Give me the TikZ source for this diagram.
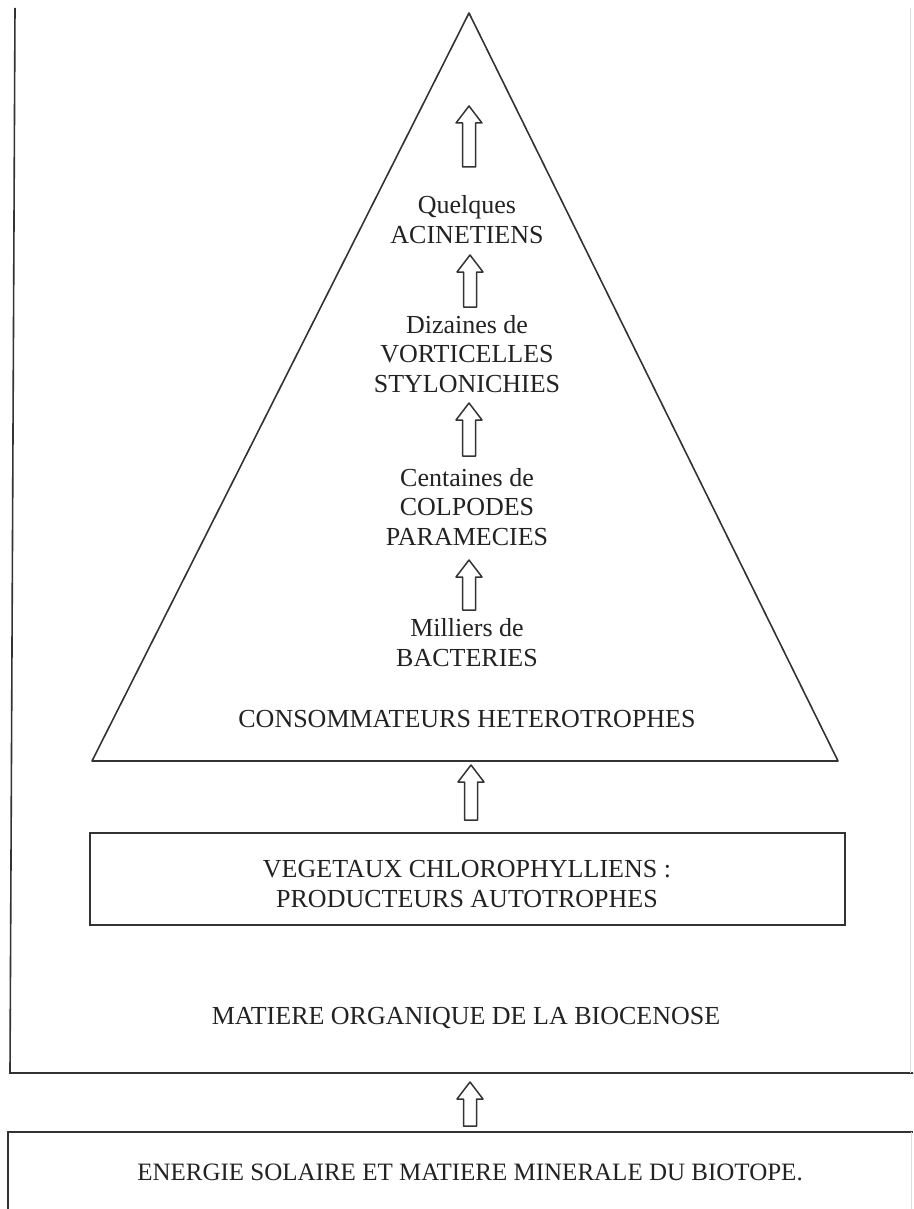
\documentclass[tikz,border=0pt]{standalone}
\usepackage{fontspec}
\setmainfont{Liberation Serif}
\usetikzlibrary{calc}
\definecolor{ink}{HTML}{333333}
\definecolor{txt}{HTML}{222222}
\definecolor{faint}{HTML}{DDDDDD}
\tikzset{
  line/.style={draw=ink, line width=1.6pt},
  lbl/.style={text=txt, inner sep=0pt, align=center, anchor=base,
    font=\fontsize{26}{29.5}\selectfont},
  blockarrow/.style={draw=ink, line width=1.5pt, line join=round,
    to path={let \p1=(\tikztostart), \p2=(\tikztotarget) in
      (\x1-6.5pt,\y1) -- (\x1+6.5pt,\y1) -- (\x1+6.5pt,\y2-17pt) -- (\x1+13pt,\y2-17pt)
      -- (\x1,\y2) -- (\x1-13pt,\y2-17pt) -- (\x1-6.5pt,\y2-17pt) -- cycle}}
}
\begin{document}
\begin{tikzpicture}[x=1pt,y=-1pt]
\useasboundingbox (0,0) rectangle (913,1209);
% outer frame (biocenose)
\draw[line] (15,8) -- (10,1073) -- (913,1073);
\draw[faint, line width=1pt] (910,8) -- (910,1073);
% lower box (biotope)
\draw[line] (8,1209) -- (8,1132) -- (913,1132);
\draw[faint, line width=1pt] (911,1132) -- (911,1209);
% pyramid
\draw[line, line join=round] (469,13) -- (92,761) -- (838,761) -- cycle;
% producers box
\draw[line] (90,833) rectangle (845,925);

% texts (anchor = baseline of the last line)
\node[lbl] (acin) at (467,243) {Quelques\\ACINETIENS};
\node[lbl] (vort) at (467,392) {Dizaines de\\VORTICELLES\\STYLONICHIES};
\node[lbl] (colp) at (467,545) {Centaines de\\COLPODES\\PARAMECIES};
\node[lbl] (bact) at (467,666) {Milliers de\\BACTERIES};
\node[lbl] (cons) at (467,727) {CONSOMMATEURS HETEROTROPHES};
\node[lbl] (vege) at (467,907) {VEGETAUX CHLOROPHYLLIENS :\\PRODUCTEURS AUTOTROPHES};
\node[lbl] (mati) at (466,1024) {MATIERE ORGANIQUE DE LA BIOCENOSE};
\node[lbl, font=\fontsize{25}{29.5}\selectfont] (ener) at (470,1180) {ENERGIE SOLAIRE ET MATIERE MINERALE DU BIOTOPE.};

% arrows
\coordinate (a1b) at (469,167); \coordinate (a1t) at (469,106);
\coordinate (a2b) at (470,307); \coordinate (a2t) at (470,255);
\coordinate (a3b) at (469,456); \coordinate (a3t) at (469,403);
\coordinate (a4b) at (469,610); \coordinate (a4t) at (469,560);
\coordinate (a5b) at (471,820); \coordinate (a5t) at (471,765);
\coordinate (a6b) at (470,1126); \coordinate (a6t) at (470,1082);
\draw[blockarrow] (a1b) to (a1t);
\draw[blockarrow] (a2b) to (a2t);
\draw[blockarrow] (a3b) to (a3t);
\draw[blockarrow] (a4b) to (a4t);
\draw[blockarrow] (a5b) to (a5t);
\draw[blockarrow] (a6b) to (a6t);
\end{tikzpicture}
\end{document}
